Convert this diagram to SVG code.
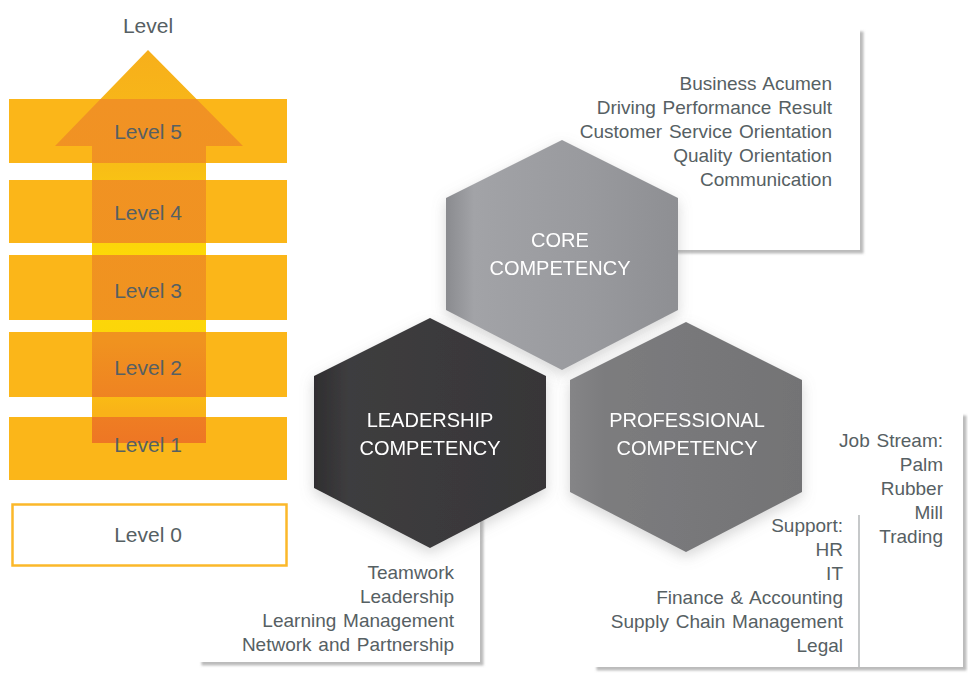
<svg xmlns="http://www.w3.org/2000/svg" width="968" height="673" viewBox="0 0 968 673">
<defs>
<style>
.lvl{font-family:"Liberation Sans",Arial,sans-serif;font-size:21px;fill:#566063;text-anchor:middle}
.hx{font-family:"Liberation Sans",Arial,sans-serif;font-size:20px;fill:#ffffff;text-anchor:middle}
.lst{font-family:"Liberation Sans",Arial,sans-serif;font-size:19px;fill:#566063;text-anchor:end;word-spacing:1.5px}
.bar{fill:#FBB619}
.box{fill:#ffffff;filter:url(#boxsh)}
</style>
<filter id="boxsh" x="-10%" y="-10%" width="125%" height="125%">
<feDropShadow dx="3.5" dy="3.5" stdDeviation="1.2" flood-color="#777" flood-opacity="0.5"/>
</filter>
<filter id="hexsh" x="-20%" y="-20%" width="140%" height="140%">
<feDropShadow dx="0" dy="5" stdDeviation="7" flood-color="#888" flood-opacity="0.35"/>
</filter>
<linearGradient id="arrowG" gradientUnits="userSpaceOnUse" x1="0" y1="50" x2="0" y2="443">
<stop offset="0" stop-color="#F7AF1B"/>
<stop offset="0.3" stop-color="#F8BE16"/>
<stop offset="0.55" stop-color="#FDDC06"/>
<stop offset="0.75" stop-color="#FCD40A"/>
<stop offset="0.92" stop-color="#F9B318"/>
</linearGradient>
<linearGradient id="overG" gradientUnits="userSpaceOnUse" x1="0" y1="99" x2="0" y2="443">
<stop offset="0" stop-color="#F19224"/>
<stop offset="0.7" stop-color="#F0931F"/>
<stop offset="1" stop-color="#EE7624"/>
</linearGradient>
<clipPath id="arrowClip">
<polygon points="148,50 243,146 206,146 206,443 92,443 92,146 55,146"/>
</clipPath>
<linearGradient id="coreG" x1="0" y1="0" x2="1" y2="0">
<stop offset="0" stop-color="#8A8B8F"/>
<stop offset="0.12" stop-color="#A2A3A7"/>
<stop offset="0.6" stop-color="#999A9E"/>
<stop offset="1" stop-color="#8E8F93"/>
</linearGradient>
<linearGradient id="leadG" x1="0" y1="0" x2="1" y2="0">
<stop offset="0" stop-color="#2F2E30"/>
<stop offset="0.15" stop-color="#3E3D3F"/>
<stop offset="1" stop-color="#373638"/>
</linearGradient>
<linearGradient id="profG" x1="0" y1="0" x2="1" y2="0">
<stop offset="0" stop-color="#858587"/>
<stop offset="0.15" stop-color="#7C7C7E"/>
<stop offset="1" stop-color="#737375"/>
</linearGradient>
<polygon id="hex" points="0,-115 116,-57 116,55 0,115 -116,55 -116,-57" stroke-linejoin="round"/>
</defs>
<rect width="968" height="673" fill="#ffffff"/>

<g id="core-box"><rect class="box" x="585" y="28" width="275" height="222"/></g>
<g id="leadership-box"><rect class="box" x="198" y="490" width="282" height="172"/></g>
<g id="professional-box"><rect class="box" x="593" y="412" width="370" height="255"/></g>

<g id="levels">
<rect class="bar" x="9" y="99" width="278" height="64"/>
<rect class="bar" x="9" y="180" width="278" height="63"/>
<rect class="bar" x="9" y="255" width="278" height="65"/>
<rect class="bar" x="9" y="332" width="278" height="65"/>
<rect class="bar" x="9" y="417" width="278" height="63"/>
<polygon points="148,50 243,146 206,146 206,443 92,443 92,146 55,146" fill="url(#arrowG)"/>
<g clip-path="url(#arrowClip)" fill="url(#overG)">
<rect x="40" y="99" width="220" height="64"/>
<rect x="40" y="180" width="220" height="63"/>
<rect x="40" y="255" width="220" height="65"/>
<rect x="40" y="332" width="220" height="65"/>
<rect x="40" y="417" width="220" height="63"/>
</g>
<rect x="12.5" y="504.5" width="274" height="61" fill="#ffffff" stroke="#FBB82A" stroke-width="2.5"/>
<text class="lvl" x="148" y="33">Level</text>
<text class="lvl" x="148" y="139">Level 5</text>
<text class="lvl" x="148" y="220">Level 4</text>
<text class="lvl" x="148" y="298">Level 3</text>
<text class="lvl" x="148" y="375">Level 2</text>
<text class="lvl" x="148" y="452">Level 1</text>
<text class="lvl" x="148" y="542">Level 0</text>
</g>

<g id="core-hex" filter="url(#hexsh)">
<use href="#hex" transform="translate(562,255)" fill="url(#coreG)"/>
<text class="hx" x="560" y="247">CORE</text>
<text class="hx" x="560" y="275">COMPETENCY</text>
</g>
<g id="leadership-hex" filter="url(#hexsh)">
<use href="#hex" transform="translate(430,433)" fill="url(#leadG)"/>
<text class="hx" x="430" y="427">LEADERSHIP</text>
<text class="hx" x="430" y="455">COMPETENCY</text>
</g>
<g id="professional-hex" filter="url(#hexsh)">
<use href="#hex" transform="translate(686,437)" fill="url(#profG)"/>
<text class="hx" x="687" y="427">PROFESSIONAL</text>
<text class="hx" x="687" y="455">COMPETENCY</text>
</g>

<g id="core-list">
<text class="lst" x="832" y="90">Business Acumen</text>
<text class="lst" x="832" y="114">Driving Performance Result</text>
<text class="lst" x="832" y="138">Customer Service Orientation</text>
<text class="lst" x="832" y="162">Quality Orientation</text>
<text class="lst" x="832" y="186">Communication</text>
</g>
<g id="leadership-list">
<text class="lst" x="454" y="579">Teamwork</text>
<text class="lst" x="454" y="603">Leadership</text>
<text class="lst" x="454" y="627">Learning Management</text>
<text class="lst" x="454" y="651">Network and Partnership</text>
</g>
<g id="job-stream-list">
<text class="lst" x="943" y="447">Job Stream:</text>
<text class="lst" x="943" y="471">Palm</text>
<text class="lst" x="943" y="495">Rubber</text>
<text class="lst" x="943" y="519">Mill</text>
<text class="lst" x="943" y="543">Trading</text>
</g>
<g id="support-list">
<text class="lst" x="843" y="532">Support:</text>
<text class="lst" x="843" y="556">HR</text>
<text class="lst" x="843" y="580">IT</text>
<text class="lst" x="843" y="604">Finance &amp; Accounting</text>
<text class="lst" x="843" y="628">Supply Chain Management</text>
<text class="lst" x="843" y="652">Legal</text>
</g>
<g id="connectors">
<line x1="859" y1="515" x2="859" y2="667" stroke="#A0A4A6" stroke-width="1.2"/>
</g>
</svg>
